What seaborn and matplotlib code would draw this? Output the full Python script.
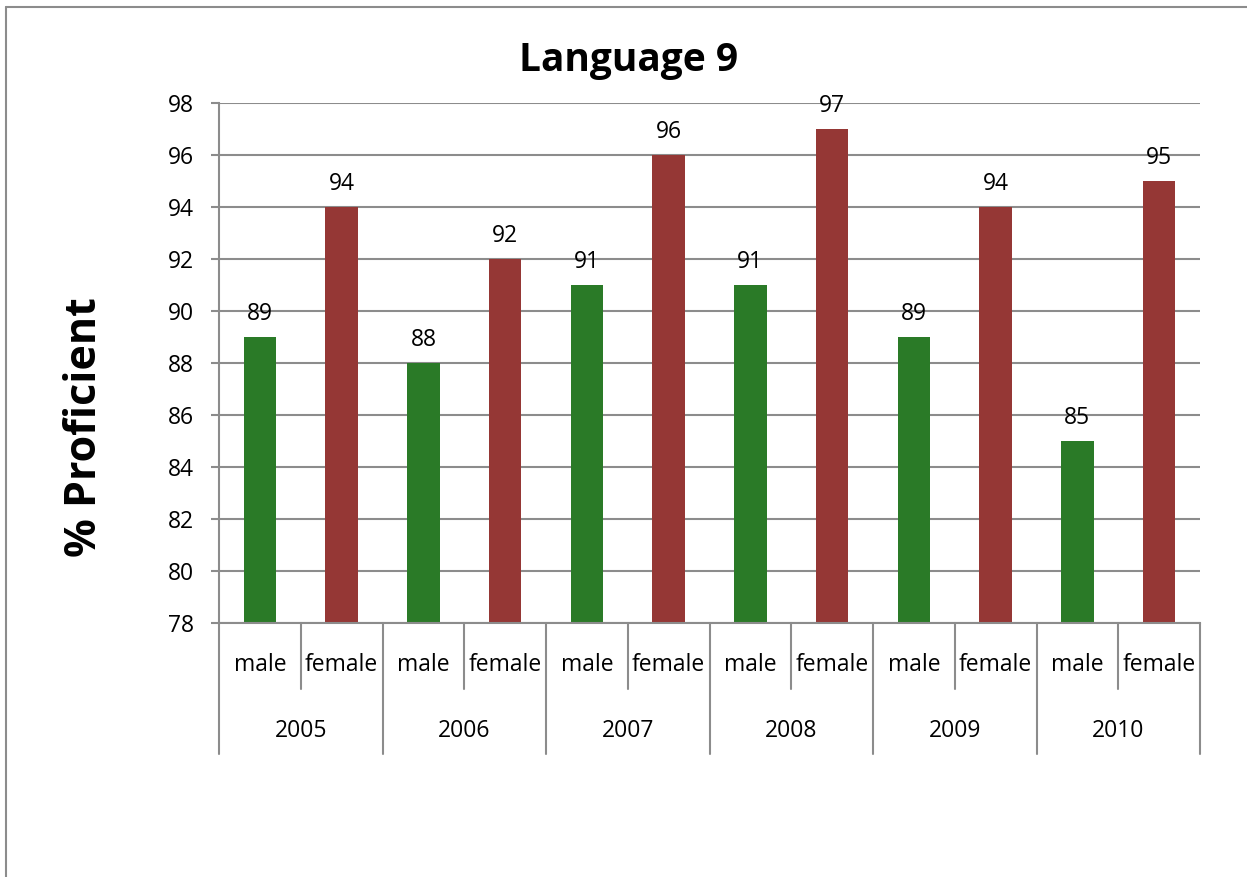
import matplotlib
matplotlib.use("Agg")
import matplotlib.pyplot as plt
from matplotlib.lines import Line2D
from matplotlib.transforms import blended_transform_factory
import seaborn as sns
import pandas as pd

years = ["2005", "2006", "2007", "2008", "2009", "2010"]
sexes = ["male", "female"]
male = [89, 88, 91, 91, 89, 85]
female = [94, 92, 96, 97, 94, 95]
y_ticks = [78, 80, 82, 84, 86, 88, 90, 92, 94, 96, 98]

title = "Language 9"
y_label = "% Proficient"

GREEN = "#2A7A27"
RED = "#953735"
GRAY = "#8C8C8C"

rows = []
for yr, m, f in zip(years, male, female):
    rows.append({"slot": f"{yr} male", "year": yr, "sex": "male", "pct": m})
    rows.append({"slot": f"{yr} female", "year": yr, "sex": "female", "pct": f})
df = pd.DataFrame(rows)
slots = list(df["slot"])

sns.set_theme(style="white")
plt.rcParams["font.family"] = ["Open Sans", "DejaVu Sans"]
plt.rcParams["text.color"] = "black"
plt.rcParams["ytick.color"] = "black"
plt.rcParams["xtick.color"] = "black"

FS = 16.5

W, H = 1247, 877
fig = plt.figure(figsize=(W / 100, H / 100), dpi=100)
left, right, top, bottom = 219, 1200, 103, 623
ax = fig.add_axes([left / W, 1 - bottom / H, (right - left) / W, (bottom - top) / H])

sns.barplot(data=df, x="slot", y="pct", hue="sex", order=slots,
            hue_order=sexes, palette={"male": GREEN, "female": RED},
            dodge=False, width=0.4, saturation=1, legend=False,
            linewidth=0, ax=ax)

ax.set_ylim(y_ticks[0], y_ticks[-1])
ax.set_xlim(-0.5, len(slots) - 0.5)
ax.set_yticks(y_ticks)
ax.set_yticklabels([str(t) for t in y_ticks], fontsize=FS, color="black")
ax.set_xticks([])
ax.set_xlabel("")
ax.set_ylabel("")
ax.yaxis.grid(True, color=GRAY, linewidth=1.5)
ax.set_axisbelow(True)
ax.tick_params(axis="y", which="major", left=True, length=6, width=1.5,
               color=GRAY, labelcolor="black", pad=12)

for side in ["top", "right"]:
    ax.spines[side].set_visible(False)
for side in ["left", "bottom"]:
    ax.spines[side].set_color(GRAY)
    ax.spines[side].set_linewidth(1.5)

# value labels above the bars
for cont in ax.containers:
    ax.bar_label(cont, fmt="%d", padding=8, fontsize=FS, color="black")

# two-level category axis below the plot
tr = blended_transform_factory(ax.transData, ax.transAxes)
h_px = bottom - top
row1 = -(689 - bottom) / h_px
row2 = -(754 - bottom) / h_px
for k in range(len(slots) + 1):
    xb = k - 0.5
    y_end = row2 if k % 2 == 0 else row1
    ax.add_line(Line2D([xb, xb], [0, y_end], transform=tr, color=GRAY,
                       linewidth=1.5, clip_on=False))
for i, s in enumerate(slots):
    ax.text(i, -(665 - bottom) / h_px, df["sex"][i], transform=tr,
            ha="center", va="center", fontsize=FS, color="black")
for j, yr in enumerate(years):
    ax.text(2 * j + 0.5, -(731 - bottom) / h_px, yr, transform=tr,
            ha="center", va="center", fontsize=FS, color="black")

fig.text(629 / W, 1 - 60 / H, title, ha="center", va="center",
         fontsize=28, fontweight="bold", color="black")
fig.text(85 / W, 1 - 427 / H, y_label, ha="center", va="center",
         rotation=90, fontsize=31, fontweight="bold", color="black")

# chart-area frame
fig.add_artist(Line2D([6 / W, 6 / W], [0, 1 - 7 / H], transform=fig.transFigure,
                      color=GRAY, linewidth=1.5))
fig.add_artist(Line2D([6 / W, 1], [1 - 7 / H, 1 - 7 / H], transform=fig.transFigure,
                      color=GRAY, linewidth=1.5))

fig.savefig("out.png", dpi=100)
